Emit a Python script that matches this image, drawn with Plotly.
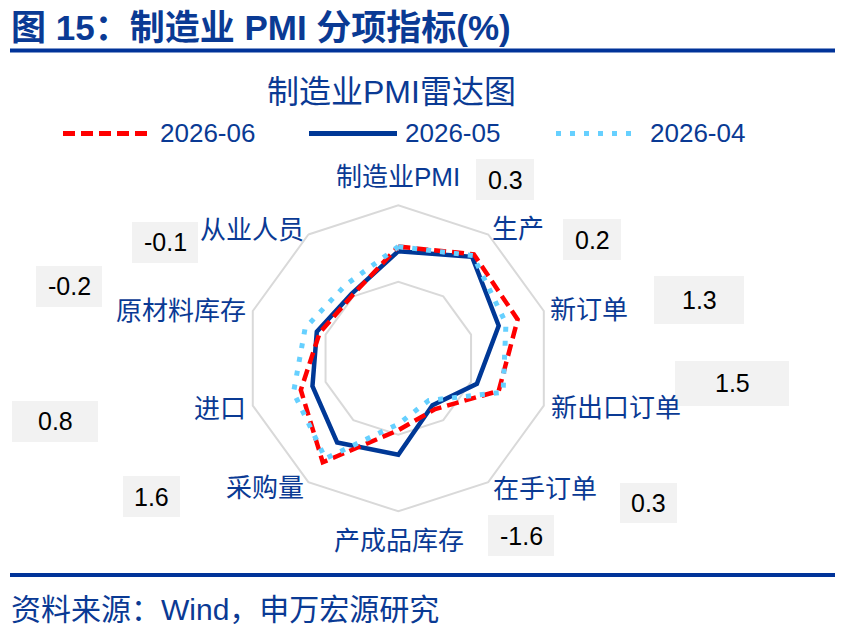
import plotly.graph_objects as go

# ---------------- data ----------------
categories = ["制造业PMI", "生产", "新订单", "新出口订单", "在手订单",
              "产成品库存", "采购量", "进口", "原材料库存", "从业人员"]
jun = [52.3, 53.4, 53.2, 51.9, 49.1, 49.7, 53.4, 51.7, 50.4, 50.1]   # 2026-06
may = [52.0, 53.2, 51.9, 50.4, 48.8, 51.3, 51.8, 50.9, 50.6, 50.2]   # 2026-05
apr = [52.3, 53.3, 52.4, 52.2, 48.4, 49.3, 53.1, 52.2, 51.4, 50.9]   # 2026-04
series_names = ["2026-06", "2026-05", "2026-04"]
radial_range = [45, 55]
radial_ticks = [45, 50, 55]

# ---------------- styles ----------------
W, H = 860, 630
NAVY = "#0A3A94"
RED = "#FF0000"
BLUE = "#003896"
LIGHT = "#66D0FF"
GRID = "#D9D9D9"
FONT = "Arial, 'Noto Sans CJK SC', sans-serif"


def px(x):
    return x / W


def py(y):
    return 1 - y / H


fig = go.Figure()

styles = [
    dict(color=RED, width=4.5, dash="12px,6px"),
    dict(color=BLUE, width=4.5, dash="solid"),
    dict(color=LIGHT, width=5, dash="5px,9px"),
]
traces = []
for vals, name, st in zip([jun, may, apr], series_names, styles):
    traces.append(go.Scatterpolar(
        r=vals + vals[:1],
        theta=categories + categories[:1],
        mode="lines",
        name=name,
        line=st,
        showlegend=False,
    ))
# draw order: 05 below, 06, then 04 on top
for i in (1, 0, 2):
    fig.add_trace(traces[i])

fig.update_layout(
    width=W, height=H,
    margin=dict(l=0, r=0, t=0, b=0),
    paper_bgcolor="white",
    font=dict(family=FONT, color=NAVY),
    polar=dict(
        domain=dict(x=[px(245.3), px(551.3)], y=[py(511.3), py(205.3)]),
        bgcolor="white",
        gridshape="linear",
        radialaxis=dict(range=radial_range, tickvals=radial_ticks,
                        showticklabels=False, ticks="", showline=False,
                        gridcolor=GRID, gridwidth=2),
        angularaxis=dict(direction="clockwise", rotation=90,
                         categoryorder="array", categoryarray=categories,
                         showgrid=False, ticks="", linecolor=GRID, linewidth=2,
                         showticklabels=False),
    ),
)

shapes = []
annotations = []

# header / footer bars
for yb in (50.5, 575):
    shapes.append(dict(type="line", xref="paper", yref="paper",
                       x0=px(10), x1=px(835), y0=py(yb), y1=py(yb),
                       line=dict(color="#003399", width=4)))

annotations.append(dict(text="<b>图 15：制造业 PMI 分项指标(%)</b>", x=px(9), y=py(28),
                        xref="paper", yref="paper", xanchor="left", yanchor="middle",
                        showarrow=False, font=dict(size=35, color="#0A3A94", family=FONT)))
annotations.append(dict(text="制造业PMI雷达图", x=px(391.5), y=py(92),
                        xref="paper", yref="paper", xanchor="center", yanchor="middle",
                        showarrow=False, font=dict(size=32, color=NAVY, family=FONT)))
annotations.append(dict(text="资料来源：Wind，申万宏源研究", x=px(9), y=py(609),
                        xref="paper", yref="paper", xanchor="left", yanchor="middle",
                        showarrow=False, font=dict(size=30, color=NAVY, family=FONT)))

# axis category labels, placed where the reference shows them
label_pos = [(397.5, 177), (518, 229), (589, 310), (616, 408), (545, 489),
             (398.5, 541), (265, 488), (219.5, 409), (181, 311), (251.5, 230)]
for name, (lx, ly) in zip(categories, label_pos):
    annotations.append(dict(text=name, x=px(lx), y=py(ly), xref="paper", yref="paper",
                            xanchor="center", yanchor="middle", showarrow=False,
                            font=dict(size=26, color=NAVY, family=FONT)))

# legend (manual, to match the long line samples)
leg = [(63, 152, 158), (309, 397, 403), (556, 637, 648)]
for (x0, x1, xt), name, st in zip(leg, series_names, styles):
    shapes.append(dict(type="line", xref="paper", yref="paper",
                       x0=px(x0), x1=px(x1), y0=py(133.5), y1=py(133.5),
                       line=dict(color=st["color"], width=5, dash=st["dash"])))
    annotations.append(dict(text=name, x=px(xt), y=py(133), xref="paper", yref="paper",
                            xanchor="left", yanchor="middle", showarrow=False,
                            font=dict(size=26, color=NAVY, family=FONT)))

# change (06 vs 05) boxes
boxes = [(476, 534, 159, 200), (563, 621, 219, 260), (654, 744, 276, 324),
         (675, 789, 361, 406), (620, 677, 483, 523), (488, 554, 515, 556),
         (123, 180, 476, 517), (12, 98, 401, 442), (36, 102, 266, 307),
         (132, 198, 222, 263)]
for (x0, x1, y0, y1), a, b in zip(boxes, jun, may):
    d = round(a - b, 1)
    shapes.append(dict(type="rect", xref="paper", yref="paper",
                       x0=px(x0), x1=px(x1), y0=py(y1), y1=py(y0),
                       fillcolor="#F2F2F2", line=dict(width=0), layer="below"))
    annotations.append(dict(text=f"{d:.1f}", x=px((x0 + x1) / 2), y=py((y0 + y1) / 2),
                            xref="paper", yref="paper", xanchor="center", yanchor="middle",
                            showarrow=False, font=dict(size=25, color="#000000", family=FONT)))

fig.update_layout(shapes=shapes, annotations=annotations)
fig.write_html("out.html")
